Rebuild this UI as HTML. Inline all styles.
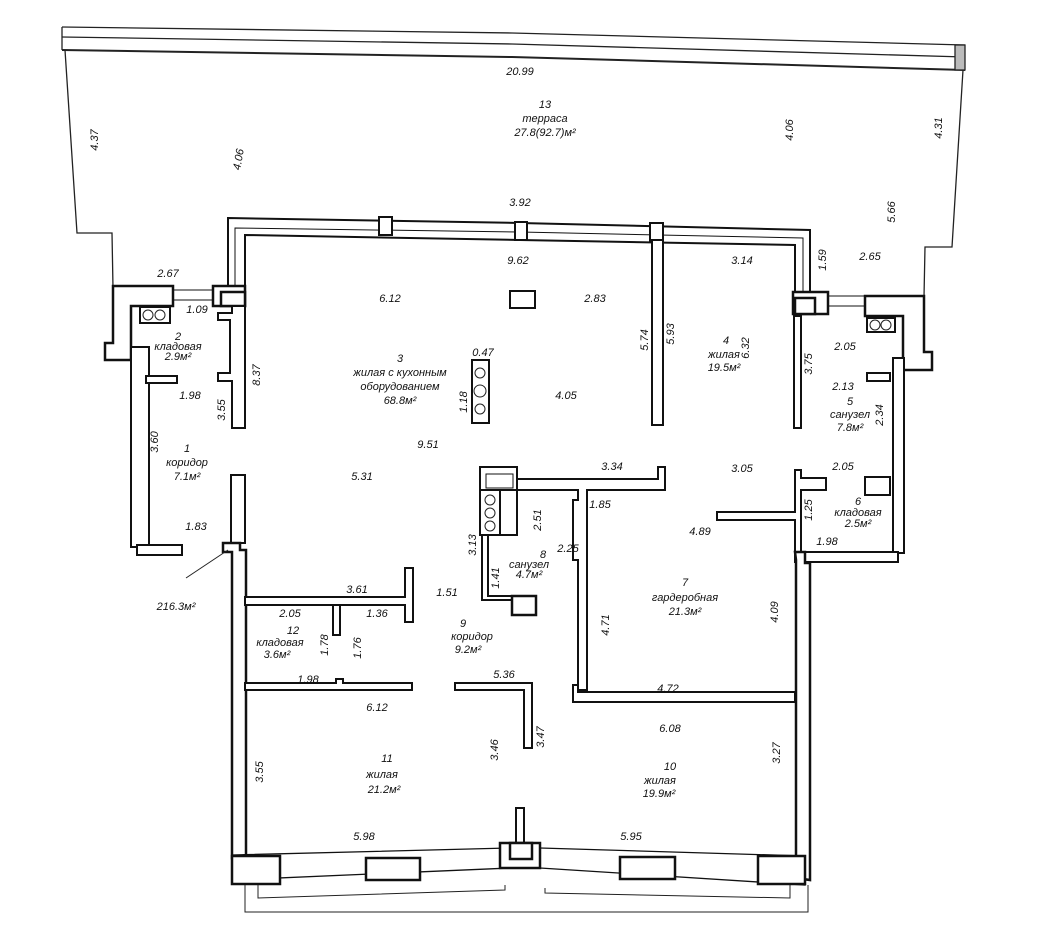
<!DOCTYPE html>
<html><head><meta charset="utf-8"><style>
html,body{margin:0;padding:0;background:#fff}
svg{display:block}
text{font-family:"Liberation Sans",sans-serif;font-style:italic;font-size:11px;fill:#111}
</style></head><body>
<svg width="1040" height="938" viewBox="0 0 1040 938" xmlns="http://www.w3.org/2000/svg">
<g fill="none" stroke="#222" stroke-width="1.3">
<polyline points="62,27 512,33 965,45"/>
<polyline points="62,37 512,44 965,57"/>
<polyline points="62,50 512,57 965,70" stroke-width="2"/>
<line x1="62" y1="27" x2="62" y2="50"/>
<rect x="955" y="45" width="10" height="25" fill="#bbb"/>
<polyline points="65,50 77,233 112,233 113,288"/>
<polyline points="963,70 952,247 925,247 924,297"/>
</g>
<g fill="#fff" stroke="#111" stroke-width="2">
<polygon points="228,218 520,223 810,230 810,292 795,292 795,245 520,240 245,235 245,286 228,286"/>
<polyline points="235,290 235,228 520,232 803,238 803,292" stroke-width="1" fill="none"/>
<rect x="379" y="217" width="13" height="18"/>
<rect x="515" y="222" width="12" height="18"/>
<rect x="650" y="223" width="13" height="18"/>
<polygon points="113,286 173,286 173,306 131,306 131,360 105,360 105,343 113,343" stroke-width="2.5"/>
<line x1="173" y1="290" x2="213" y2="290" stroke-width="1"/>
<line x1="173" y1="300" x2="213" y2="300" stroke-width="1"/>
<rect x="213" y="286" width="32" height="20" stroke-width="2.5"/>
<rect x="221" y="292" width="24" height="14" stroke-width="2.5"/>
<rect x="140" y="307" width="30" height="16"/>
<rect x="131" y="347" width="18" height="200"/>
<rect x="137" y="545" width="45" height="10"/>
<rect x="146" y="376" width="31" height="7"/>
<polygon points="218,313 232,313 232,306 245,306 245,428 232,428 232,381 218,381 218,373 230,373 230,320 218,320"/>
<rect x="231" y="475" width="14" height="68"/>
<polygon points="223,543 240,543 240,550 246,550 246,855 232,858 232,552 223,552" stroke-width="2.5"/>
<rect x="793" y="292" width="35" height="22" stroke-width="2.5"/>
<rect x="795" y="298" width="20" height="16" stroke-width="2.5"/>
<line x1="828" y1="296" x2="865" y2="296" stroke-width="1"/>
<line x1="828" y1="306" x2="865" y2="306" stroke-width="1"/>
<polygon points="865,296 924,296 924,352 932,352 932,370 903,370 903,316 865,316" stroke-width="2.5"/>
<rect x="867" y="318" width="28" height="14"/>
<rect x="893" y="358" width="11" height="195"/>
<rect x="794" y="316" width="7" height="112"/>
<rect x="652" y="240" width="11" height="185"/>
<rect x="867" y="373" width="23" height="8"/>
<rect x="865" y="477" width="25" height="18"/>
<polygon points="795,470 801,470 801,478 826,478 826,490 801,490 801,552 795,552 795,520 717,520 717,512 795,512"/>
<rect x="795" y="552" width="103" height="10"/>
<polygon points="795,552 805,552 805,563 810,563 810,880 796,878 796,560" stroke-width="2.5"/>
<polygon points="517,479 658,479 658,467 665,467 665,490 587,490 587,690 578,690 578,560 573,560 573,500 578,500 578,490 517,490"/>
<polygon points="573,685 578,685 578,692 795,692 795,702 573,702"/>
<rect x="480" y="467" width="37" height="23"/>
<rect x="486" y="474" width="27" height="14" stroke-width="1"/>
<rect x="480" y="490" width="20" height="45"/>
<rect x="500" y="490" width="17" height="45"/>
<polygon points="482,535 488,535 488,596 512,596 512,600 482,600"/>
<rect x="512" y="596" width="24" height="19" stroke-width="2.5"/>
<rect x="472" y="360" width="17" height="63"/>
<rect x="510" y="291" width="25" height="17"/>
<polygon points="245,597 405,597 405,568 413,568 413,622 405,622 405,605 245,605"/>
<rect x="333" y="605" width="7" height="30"/>
<polygon points="245,683 336,683 336,679 343,679 343,683 412,683 412,690 245,690"/>
<polygon points="455,683 532,683 532,748 524,748 524,690 455,690"/>
<rect x="516" y="808" width="8" height="37"/>
<polygon points="232,855 510,848 540,848 805,856 805,885 540,868 510,868 232,880" stroke-width="1.3"/>
<rect x="232" y="856" width="48" height="28" stroke-width="2.5"/>
<rect x="366" y="858" width="54" height="22" stroke-width="2.5"/>
<rect x="500" y="843" width="40" height="25" stroke-width="2.5"/>
<rect x="510" y="843" width="22" height="16" stroke-width="2.5"/>
<rect x="620" y="857" width="55" height="22" stroke-width="2.5"/>
<rect x="758" y="856" width="47" height="28" stroke-width="2.5"/>
</g>
<g fill="none" stroke="#222" stroke-width="1">
<polyline points="245,885 245,912 808,912 808,885"/>
<polyline points="258,885 258,898 505,890 505,885"/>
<polyline points="545,888 545,893 790,898 790,885"/>
<line x1="186" y1="578" x2="228" y2="550"/>
<circle cx="148" cy="315" r="5"/><circle cx="160" cy="315" r="5"/>
<circle cx="875" cy="325" r="5"/><circle cx="886" cy="325" r="5"/>
<circle cx="480" cy="373" r="5"/><circle cx="480" cy="391" r="6"/><circle cx="480" cy="409" r="5"/>
<circle cx="490" cy="500" r="5"/><circle cx="490" cy="513" r="5"/><circle cx="490" cy="526" r="5"/>
</g>
<g text-anchor="middle">
<text x="520" y="75">20.99</text>
<text x="545" y="108">13</text>
<text x="545" y="122">терраса</text>
<text x="545" y="136">27.8(92.7)м²</text>
<text x="520" y="206">3.92</text>
<text x="518" y="264">9.62</text>
<text x="168" y="277">2.67</text>
<text x="870" y="260">2.65</text>
<text x="742" y="264">3.14</text>
<text x="390" y="302">6.12</text>
<text x="595" y="302">2.83</text>
<text x="197" y="313">1.09</text>
<text x="178" y="340">2</text>
<text x="178" y="350">кладовая</text>
<text x="178" y="360">2.9м²</text>
<text x="400" y="362">3</text>
<text x="400" y="376">жилая с кухонным</text>
<text x="400" y="390">оборудованием</text>
<text x="400" y="404">68.8м²</text>
<text x="483" y="356">0.47</text>
<text x="190" y="399">1.98</text>
<text x="566" y="399">4.05</text>
<text x="726" y="344">4</text>
<text x="724" y="358">жилая</text>
<text x="724" y="371">19.5м²</text>
<text x="845" y="350">2.05</text>
<text x="843" y="390">2.13</text>
<text x="850" y="405">5</text>
<text x="850" y="418">санузел</text>
<text x="850" y="431">7.8м²</text>
<text x="428" y="448">9.51</text>
<text x="187" y="452">1</text>
<text x="187" y="466">коридор</text>
<text x="187" y="480">7.1м²</text>
<text x="362" y="480">5.31</text>
<text x="612" y="470">3.34</text>
<text x="742" y="472">3.05</text>
<text x="843" y="470">2.05</text>
<text x="858" y="505">6</text>
<text x="858" y="516">кладовая</text>
<text x="858" y="527">2.5м²</text>
<text x="600" y="508">1.85</text>
<text x="700" y="535">4.89</text>
<text x="196" y="530">1.83</text>
<text x="827" y="545">1.98</text>
<text x="568" y="552">2.25</text>
<text x="543" y="558">8</text>
<text x="529" y="568">санузел</text>
<text x="529" y="578">4.7м²</text>
<text x="685" y="586">7</text>
<text x="685" y="601">гардеробная</text>
<text x="685" y="615">21.3м²</text>
<text x="176" y="610">216.3м²</text>
<text x="357" y="593">3.61</text>
<text x="447" y="596">1.51</text>
<text x="290" y="617">2.05</text>
<text x="377" y="617">1.36</text>
<text x="463" y="627">9</text>
<text x="472" y="640">коридор</text>
<text x="468" y="653">9.2м²</text>
<text x="293" y="634">12</text>
<text x="280" y="646">кладовая</text>
<text x="277" y="658">3.6м²</text>
<text x="308" y="683">1.98</text>
<text x="504" y="678">5.36</text>
<text x="668" y="692">4.72</text>
<text x="377" y="711">6.12</text>
<text x="670" y="732">6.08</text>
<text x="387" y="762">11</text>
<text x="382" y="778">жилая</text>
<text x="384" y="793">21.2м²</text>
<text x="670" y="770">10</text>
<text x="660" y="784">жилая</text>
<text x="659" y="797">19.9м²</text>
<text x="364" y="840">5.98</text>
<text x="631" y="840">5.95</text>
</g>
<g text-anchor="middle">
<text transform="translate(98,140) rotate(-90)">4.37</text>
<text transform="translate(242,160) rotate(-80)">4.06</text>
<text transform="translate(793,130) rotate(-90)">4.06</text>
<text transform="translate(942,128) rotate(-90)">4.31</text>
<text transform="translate(895,212) rotate(-90)">5.66</text>
<text transform="translate(826,260) rotate(-90)">1.59</text>
<text transform="translate(260,375) rotate(-90)">8.37</text>
<text transform="translate(225,410) rotate(-90)">3.55</text>
<text transform="translate(158,442) rotate(-90)">3.60</text>
<text transform="translate(467,402) rotate(-90)">1.18</text>
<text transform="translate(648,340) rotate(-90)">5.74</text>
<text transform="translate(674,334) rotate(-90)">5.93</text>
<text transform="translate(749,348) rotate(-90)">6.32</text>
<text transform="translate(812,364) rotate(-90)">3.75</text>
<text transform="translate(883,415) rotate(-90)">2.34</text>
<text transform="translate(812,510) rotate(-90)">1.25</text>
<text transform="translate(541,520) rotate(-90)">2.51</text>
<text transform="translate(476,545) rotate(-90)">3.13</text>
<text transform="translate(499,578) rotate(-90)">1.41</text>
<text transform="translate(609,625) rotate(-90)">4.71</text>
<text transform="translate(778,612) rotate(-90)">4.09</text>
<text transform="translate(328,645) rotate(-90)">1.78</text>
<text transform="translate(361,648) rotate(-90)">1.76</text>
<text transform="translate(544,737) rotate(-90)">3.47</text>
<text transform="translate(498,750) rotate(-90)">3.46</text>
<text transform="translate(263,772) rotate(-90)">3.55</text>
<text transform="translate(780,753) rotate(-90)">3.27</text>
</g>
</svg>
</body></html>
